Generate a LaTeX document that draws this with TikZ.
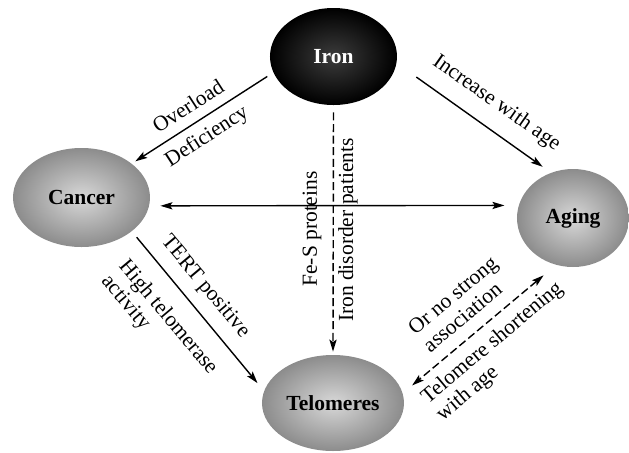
\documentclass[tikz,border=0pt]{standalone}
\usepackage{fontspec}
\setmainfont{Liberation Serif}
\usetikzlibrary{arrows.meta,shapes.geometric}
\definecolor{BallLight}{HTML}{D8D8D8}
\definecolor{BallDark}{HTML}{8C8C8C}
\definecolor{IronCore}{HTML}{3C3C3C}

\begin{document}
\begin{tikzpicture}[
    x=0.5pt,y=-0.5pt,
    ball/.style={ellipse,inner sep=0pt,shading=radial,inner color=BallLight,outer color=BallDark,font=\fontsize{10.75}{12}\selectfont\bfseries},
    lbl/.style={inner sep=0pt,align=left,font=\fontsize{10.75}{11.5}\selectfont},
    arr/.style={-{Stealth[length=6pt,width=3.6pt,inset=1.2pt]},line width=0.7pt},
    darr/.style={{Stealth[length=6pt,width=3.6pt,inset=1.2pt]}-{Stealth[length=6pt,width=3.6pt,inset=1.2pt]},line width=0.7pt},
    dsh/.style={dash pattern=on 4pt off 1.8pt}
  ]
  \useasboundingbox (0,0) rectangle (629,452);
  \node[ball,minimum width=63.5pt,minimum height=48.5pt,inner color=IronCore,outer color=black,text=white] (iron) at (333.5,56.5) {Iron};
  \node[ball,minimum width=68.5pt,minimum height=49.5pt] (cancer) at (81.5,197.5) {Cancer};
  \node[ball,minimum width=56pt,minimum height=49pt] (aging) at (573,218) {Aging};
  \node[ball,minimum width=71pt,minimum height=48pt] (telo) at (333,403) {Telomeres};
  % connectors
  \draw[arr,shorten <=3.5pt,shorten >=2pt] (iron.195) -- (cancer.34);
  \draw[arr,shorten <=12pt,shorten >=5pt] (iron.-6) -- (aging.116);
  \draw[darr,shorten <=5.5pt,shorten >=7pt] (cancer.-7) -- (aging.167.5);
  \draw[arr,dsh,shorten <=3.5pt,shorten >=1.5pt] (iron.south) -- (telo.north);
  \draw[arr,shorten <=3.7pt,shorten >=5pt] (cancer.-34) -- (telo.170);
  \draw[darr,dsh,shorten <=8pt,shorten >=6pt] (aging.250) -- (telo.8);
  % labels
  \node[lbl,rotate=33] (over) at (188,106) {Overload};
  \node[lbl,rotate=33] (defic) at (207,137) {Deficiency};
  \node[lbl,rotate=-35] (incr) at (496.5,103.5) {Increase with age};
  \node[lbl,rotate=90] (fes) at (312,229) {Fe-S proteins};
  \node[lbl,rotate=90] (irondis) at (348,230) {Iron disorder patients};
  \node[lbl,rotate=-50] (tert) at (205,287) {TERT positive};
  \node[lbl,rotate=-50] (hightel) at (159,325) {High telomerase\\activity};
  \node[lbl,rotate=40] (nostrong) at (460,304) {Or no strong\\association};
  \node[lbl,rotate=40] (telshort) at (500,352) {Telomere shortening\\with age};
\end{tikzpicture}
\end{document}
